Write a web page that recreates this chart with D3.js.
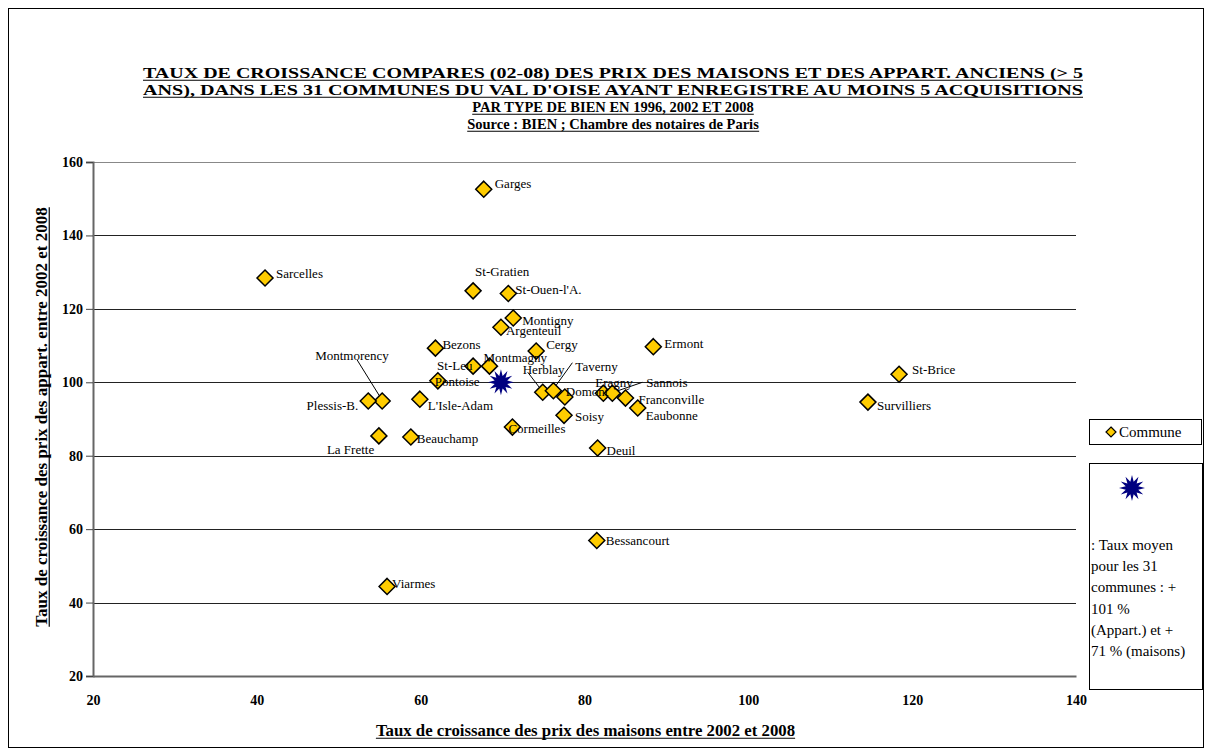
<!DOCTYPE html>
<html>
<head>
<meta charset="utf-8">
<script src="https://cdn.jsdelivr.net/npm/d3@7"></script>
<style>
  html, body { margin: 0; padding: 0; background: #fff; }
  svg { display: block; }
  text { font-family: "Liberation Serif", "Times New Roman", serif; fill: #000; }
</style>
</head>
<body>
<svg id="chart" width="1211" height="756"></svg>
<script>
// ---------------- DATA ----------------
const titleLines = [
  "TAUX DE CROISSANCE COMPARES (02-08) DES PRIX DES MAISONS ET DES APPART. ANCIENS (> 5",
  "ANS), DANS LES 31 COMMUNES DU VAL D'OISE AYANT ENREGISTRE AU MOINS 5 ACQUISITIONS",
  "PAR TYPE DE BIEN EN 1996, 2002 ET 2008",
  "Source : BIEN ; Chambre des notaires de Paris"
];
const xAxisTitle = "Taux de croissance des prix des maisons entre 2002 et 2008";
const yAxisTitle = "Taux de croissance des prix des appart. entre 2002 et 2008";

const communes = ["Garges","Sarcelles","St-Gratien","St-Ouen-l'A.","Montigny","Argenteuil","Bezons","Cergy","Ermont",
  "St-Leu","Montmagny","Pontoise","Herblay","Taverny","Domont","Soisy","Cormeilles","Eragny","Sannois","Franconville",
  "Eaubonne","Deuil","L'Isle-Adam","Beauchamp","Montmorency","Plessis-B.","La Frette","Bessancourt","Viarmes",
  "St-Brice","Survilliers"];
const maisons = [67.7, 41.0, 66.4, 70.7, 71.3, 69.8, 61.8, 74.1, 88.4,
  66.4, 68.4, 62.1, 74.9, 76.2, 77.6, 77.5, 71.2, 82.3, 83.4, 85.0,
  86.5, 81.6, 59.9, 58.8, 55.3, 53.6, 54.9, 81.5, 55.9,
  118.4, 114.6];
const appart = [152.6, 128.4, 124.9, 124.2, 117.5, 115.0, 109.3, 108.5, 109.7,
  104.4, 104.4, 100.4, 97.3, 97.7, 96.0, 91.0, 87.8, 97.0, 97.0, 95.7,
  93.0, 82.1, 95.4, 85.1, 94.9, 94.9, 85.4, 56.9, 44.4,
  102.2, 94.6];

const meanMaisons = 69.8;
const meanAppart = 100.0;

const xTicks = [20, 40, 60, 80, 100, 120, 140];
const yTicks = [20, 40, 60, 80, 100, 120, 140, 160];

const legendSeries = "Commune";
const legendMeanLines = [": Taux moyen", "pour les 31", "communes : +", "101 %", "(Appart.) et +", "71 % (maisons)"];

// ---------------- LAYOUT (positions / styles) ----------------
const plot = { left: 93, right: 1076, top: 162, bottom: 676 };
const titleWidths = [940, 940, null, null];
const titleSizes = [15, 15, 14.5, 14.5];
// label placement: [dx, dy (text centre), anchor] relative to the marker
const labelPlace = {
  "Garges": [11, -6, "start"], "Sarcelles": [11, -5, "start"], "St-Gratien": [2, -19, "start"],
  "St-Ouen-l'A.": [7, -4, "start"], "Montigny": [9, 2, "start"], "Argenteuil": [5, 3, "start"],
  "Bezons": [7, -4, "start"], "Cergy": [10, -7, "start"], "Ermont": [11, -3, "start"],
  "St-Leu": [-36, -1, "start"], "Montmagny": [-6, -9, "start"], "Pontoise": [-3, 1, "start"],
  "Herblay": [-20, -23, "start"], "Taverny": [22, -24, "start"], "Domont": [1, -5, "start"],
  "Soisy": [11, 1, "start"], "Cormeilles": [-4, 1, "start"], "Eragny": [-8, -11, "start"],
  "Sannois": [34, -11, "start"], "Franconville": [13, 1, "start"], "Eaubonne": [8, 8, "start"],
  "Deuil": [9, 2, "start"], "L'Isle-Adam": [8, 6, "start"], "Beauchamp": [6, 2, "start"],
  "Montmorency": [-67, -46, "start"], "Plessis-B.": [-10, 4, "end"], "La Frette": [-52, 14, "start"],
  "Bessancourt": [9, 0, "start"], "Viarmes": [5, -3, "start"], "St-Brice": [13, -5, "start"],
  "Survilliers": [9, 3, "start"]
};
const leaders = {
  "Herblay": [-15, -20, -2, -3],
  "Taverny": [19, -28, 1, -3],
  "Montmorency": [-25, -41, -2, -4],
  "Sannois": [30, -11, 1, -1]
};

const svg = d3.select("#chart");
const x = d3.scaleLinear().domain([20, 140]).range([plot.left, plot.right]);
const y = d3.scaleLinear().domain([20, 160]).range([plot.bottom, plot.top]);

// outer frame
svg.append("rect").attr("x", 8.5).attr("y", 8.5).attr("width", 1195).attr("height", 739)
  .attr("fill", "#fff").attr("stroke", "#000").attr("stroke-width", 1);

// underline helper
function underlined(sel, fontSize) {
  sel.each(function() {
    const t = d3.select(this);
    const bb = this.getBBox();
    d3.select(this.parentNode).append("line")
      .attr("x1", bb.x).attr("x2", bb.x + bb.width)
      .attr("y1", +t.attr("y") + fontSize * 0.15).attr("y2", +t.attr("y") + fontSize * 0.15)
      .attr("stroke", "#000").attr("stroke-width", 1.2);
  });
}

// title
const titleG = svg.append("g");
titleG.selectAll("text").data(titleLines).join("text")
  .attr("x", 613).attr("y", (d, i) => 78 + i * 17)
  .attr("text-anchor", "middle").attr("font-weight", "bold")
  .attr("font-size", (d, i) => titleSizes[i])
  .each(function(d, i) {
    if (titleWidths[i]) d3.select(this).attr("textLength", titleWidths[i]).attr("lengthAdjust", "spacingAndGlyphs");
  })
  .text(d => d)
  .call(underlined, 15);

// gridlines
svg.append("g").selectAll("line").data(yTicks).join("line")
  .attr("x1", plot.left).attr("x2", plot.right)
  .attr("y1", d => Math.round(y(d)) + 0.5).attr("y2", d => Math.round(y(d)) + 0.5)
  .attr("stroke", (d) => d === 160 ? "#888" : "#222").attr("stroke-width", 1);

// axes
const yAxis = svg.append("g").attr("transform", `translate(${plot.left},0)`)
  .call(d3.axisLeft(y).tickValues(yTicks).tickSize(7).tickPadding(3).tickFormat(d3.format("d")));
const xAxis = svg.append("g").attr("transform", `translate(0,${plot.bottom})`)
  .call(d3.axisBottom(x).tickValues(xTicks).tickSize(0).tickPadding(19).tickFormat(d3.format("d")));
[yAxis, xAxis].forEach(a => {
  a.select(".domain").attr("stroke", "#666").attr("stroke-width", 2);
  a.selectAll(".tick line").attr("stroke", "#444");
  a.selectAll(".tick text").attr("font-family", "Liberation Serif").attr("font-weight", "bold")
    .attr("font-size", 14).attr("fill", "#000");
});

// axis titles
const xt = svg.append("g");
xt.append("text").attr("x", 585.5).attr("y", 736)
  .attr("text-anchor", "middle").attr("font-weight", "bold").attr("font-size", 16.8)
  .text(xAxisTitle).call(underlined, 15);
const yt = svg.append("g").attr("transform", "translate(47,417) rotate(-90)");
yt.append("text").attr("x", 0).attr("y", 0)
  .attr("text-anchor", "middle").attr("font-weight", "bold").attr("font-size", 17)
  .text(yAxisTitle).call(underlined, 15);

// data
const pts = communes.map((c, i) => ({ name: c, mx: maisons[i], ay: appart[i] }));
const diamond = s => `M0,${-s}L${s},0L0,${s}L${-s},0Z`;

// leader lines
svg.append("g").selectAll("line").data(pts.filter(p => leaders[p.name])).join("line")
  .attr("x1", p => x(p.mx) + leaders[p.name][0]).attr("y1", p => y(p.ay) + leaders[p.name][1])
  .attr("x2", p => x(p.mx) + leaders[p.name][2]).attr("y2", p => y(p.ay) + leaders[p.name][3])
  .attr("stroke", "#000").attr("stroke-width", 1);

svg.append("g").selectAll("path").data(pts).join("path")
  .attr("d", diamond(8))
  .attr("transform", p => `translate(${x(p.mx)},${y(p.ay)})`)
  .attr("fill", "#FFCC00").attr("stroke", "#000").attr("stroke-width", 1.5);

svg.append("g").selectAll("text").data(pts).join("text")
  .attr("x", p => x(p.mx) + labelPlace[p.name][0])
  .attr("y", p => y(p.ay) + labelPlace[p.name][1] + 4.5)
  .attr("text-anchor", p => labelPlace[p.name][2])
  .attr("font-size", 13)
  .text(p => p.name);

// mean star
function starPath(n, ro, ri) {
  const pts = [];
  for (let k = 0; k < 2 * n; k++) {
    const r = k % 2 === 0 ? ro : ri;
    const a = Math.PI * k / n - Math.PI / 2;
    pts.push([r * Math.cos(a), r * Math.sin(a)]);
  }
  return "M" + pts.map(p => p.join(",")).join("L") + "Z";
}
svg.append("path").attr("d", starPath(12, 13, 6.5))
  .attr("transform", `translate(${x(meanMaisons)},${y(meanAppart)})`)
  .attr("fill", "#000080");

// legend 1
const lg1 = svg.append("g");
lg1.append("rect").attr("x", 1089.5).attr("y", 419.5).attr("width", 112).attr("height", 25)
  .attr("fill", "#fff").attr("stroke", "#000");
lg1.append("path").attr("d", diamond(5)).attr("transform", "translate(1111,432)")
  .attr("fill", "#FFCC00").attr("stroke", "#000").attr("stroke-width", 1.2);
lg1.append("text").attr("x", 1119).attr("y", 437).attr("font-size", 15).text(legendSeries);

// legend 2
const lg2 = svg.append("g");
lg2.append("rect").attr("x", 1089.5).attr("y", 463.5).attr("width", 113).attr("height", 226)
  .attr("fill", "#fff").attr("stroke", "#000");
lg2.append("path").attr("d", starPath(12, 13, 6.5)).attr("transform", "translate(1132,488)")
  .attr("fill", "#000080");
lg2.selectAll("text").data(legendMeanLines).join("text")
  .attr("x", 1091).attr("y", (d, i) => 550 + i * 21.2)
  .attr("font-size", 15).text(d => d);
</script>
</body>
</html>
